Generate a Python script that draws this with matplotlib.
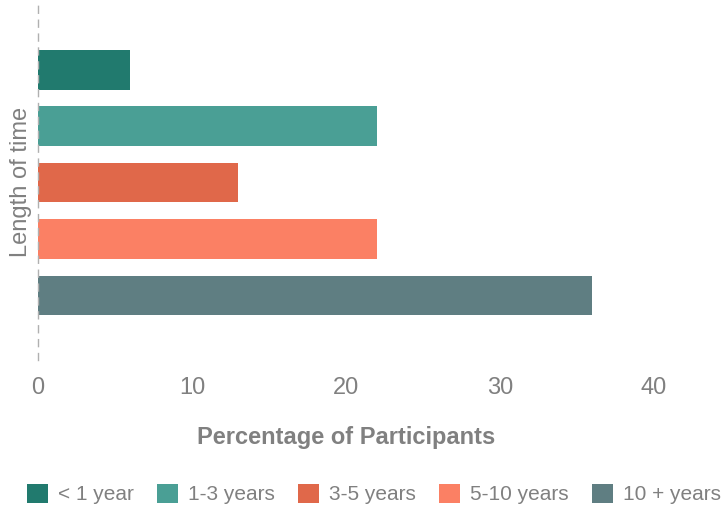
import matplotlib.pyplot as plt

# Data
series = ["< 1 year", "1-3 years", "3-5 years", "5-10 years", "10 + years"]
values = [6, 22, 13, 22, 36]
colors = ["#217a6e", "#4a9f95", "#e0684a", "#fb8064", "#5f7e82"]
xticks = [0, 10, 20, 30, 40]

plt.rcParams['font.family'] = ['Liberation Sans', 'DejaVu Sans']
grey = "#808080"

fig = plt.figure(figsize=(7.22, 5.11), dpi=100)
ax = fig.add_axes([0.0526, 0.2955, 0.853, 0.695])

for i, (name, val, col) in enumerate(zip(series, values, colors)):
    ax.barh(i, val, height=0.7, color=col, label=name)

ax.set_ylim(4 + 1.14, -1.15)
ax.set_xlim(0, 40)
ax.set_xticks(xticks)
ax.set_yticks([])
ax.tick_params(axis="x", length=0, pad=12, labelsize=17, labelcolor=grey)

for s in ["top", "right", "bottom"]:
    ax.spines[s].set_visible(False)
ax.spines["left"].set_linestyle((0, (5, 5)))
ax.spines["left"].set_color("#b0b0b0")
ax.spines["left"].set_linewidth(1)

ax.set_xlabel("Percentage of Participants", fontsize=17, fontweight="bold",
              color=grey, labelpad=20)
ax.set_ylabel("Length of time", fontsize=17, color=grey, labelpad=4)

fig.legend(loc="center", bbox_to_anchor=(0.518, 0.033), ncol=5, frameon=False,
           fontsize=15, labelcolor=grey, handlelength=1.0, handleheight=1.0,
           handletextpad=0.5, columnspacing=1.1)

fig.savefig("out.png", dpi=100)
